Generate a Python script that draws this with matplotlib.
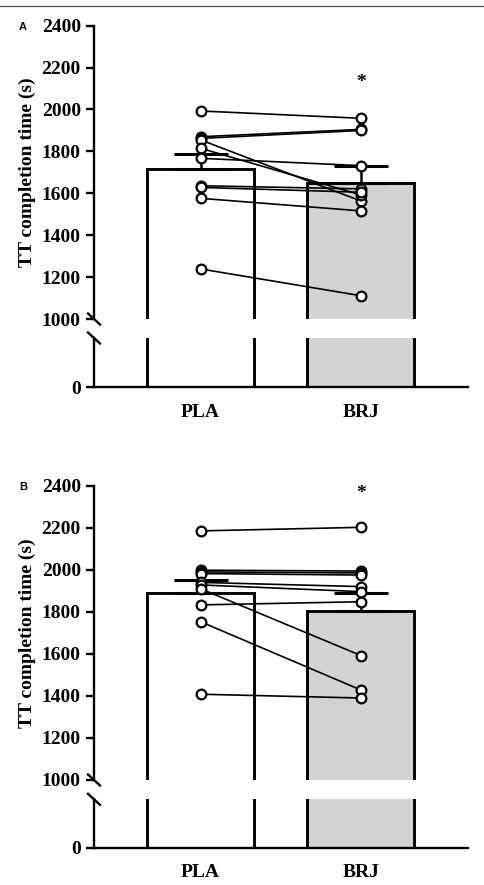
import matplotlib
matplotlib.use("Agg")
import matplotlib.pyplot as plt
from matplotlib.lines import Line2D
import numpy as np

# --- data ---
groups = ["PLA", "BRJ"]
bar_colors = ["white", "#d3d3d3"]

# panel A
pla_a = [1993, 1870, 1862, 1855, 1815, 1767, 1636, 1628, 1576, 1239]
brj_a = [1958, 1905, 1900, 1563, 1592, 1732, 1621, 1605, 1516, 1111]
mean_a = [1718, 1651]
sem_a = [70, 79]
star_a = 2130

# panel B
pla_b = [2185, 1998, 1990, 1982, 1940, 1928, 1910, 1833, 1753, 1408]
brj_b = [2202, 1994, 1985, 1975, 1920, 1896, 1592, 1848, 1428, 1390]
mean_b = [1888, 1806]
sem_b = [64, 85]
star_b = 2365

yticks_top = [1000, 1200, 1400, 1600, 1800, 2000, 2200, 2400]
ylabel = "TT completion time (s)"

W, H = 485, 885
fig = plt.figure(figsize=(W / 100, H / 100), dpi=100)
serif = "Liberation Serif"
LW_SPINE = 1.7
LW_BAR = 2.1


def px_box(left, right, top, bottom):
    return [left / W, 1 - bottom / H, (right - left) / W, (bottom - top) / H]


def break_mark(ax, ypos):
    # little "\" across the left spine
    b = ax.get_position()
    dx = 6 / (b.width * W)
    dy = 5.5 / (b.height * H)
    ax.plot([-dx, dx], [ypos + dy, ypos - dy], transform=ax.transAxes,
            color="black", lw=LW_SPINE, clip_on=False)


def panel(top_box, bot_box, pla, brj, means, sems, star_y, letter):
    ax_t = fig.add_axes(top_box)
    ax_b = fig.add_axes(bot_box)
    x = np.arange(len(groups))
    for ax in (ax_t, ax_b):
        ax.bar(x, means, width=0.667, color=bar_colors, edgecolor="black",
               linewidth=LW_BAR, zorder=1)
        ax.set_xlim(-0.664, 1.667)
        for s in ["top", "right"]:
            ax.spines[s].set_visible(False)
        ax.spines["left"].set_linewidth(LW_SPINE)
        ax.spines["bottom"].set_linewidth(LW_SPINE)
        ax.tick_params(axis="y", width=LW_SPINE, length=6, direction="out")
        ax.tick_params(axis="x", length=0)

    # upper part of broken axis
    ax_t.set_ylim(1000, 2400)
    ax_t.spines["bottom"].set_visible(False)
    ax_t.set_xticks([])
    ax_t.set_yticks(yticks_top)
    ax_t.errorbar(x, means, yerr=[[0, 0], sems], fmt="none", ecolor="black",
                  elinewidth=1.8, capsize=19.5, capthick=2.2, zorder=2)
    for a, b in zip(pla, brj):
        ax_t.plot(x, [a, b], color="black", lw=1.2, marker="o", ms=7,
                  mfc="white", mec="black", mew=1.6, zorder=3)
    ax_t.text(x[1], star_y, "*", ha="center", va="center", fontsize=14,
              fontfamily=serif, fontweight="bold")
    ax_t.set_ylabel(ylabel, fontsize=14, fontfamily=serif, fontweight="bold",
                    labelpad=4)

    # lower part
    ax_b.set_ylim(0, 400)
    ax_b.set_yticks([0])
    ax_b.set_xticks(x)
    ax_b.set_xticklabels(groups)
    ax_b.tick_params(axis="x", pad=12)

    for ax in (ax_t, ax_b):
        for lab in ax.get_yticklabels() + ax.get_xticklabels():
            lab.set_fontfamily(serif)
            lab.set_fontweight("bold")
            lab.set_fontsize(14)

    break_mark(ax_t, 0.0)
    break_mark(ax_b, 1.0)

    fig.text(23 / W, 1 - (top_box_px_y(top_box)) / H, letter, ha="center",
             va="center", fontsize=8, fontweight="bold", family="Liberation Sans")
    return ax_t, ax_b


def top_box_px_y(box):
    # pixel y of the top edge of the upper axes
    return (1 - (box[1] + box[3])) * H + 1


panel(px_box(94, 468, 25.7, 319), px_box(94, 468, 338, 387),
      pla_a, brj_a, mean_a, sem_a, star_a, "A")
panel(px_box(94, 468, 485.7, 780), px_box(94, 468, 799.3, 847.7),
      pla_b, brj_b, mean_b, sem_b, star_b, "B")

# thin page rule at the very top
fig.add_artist(Line2D([0, 1], [1 - 6 / H, 1 - 6 / H], transform=fig.transFigure,
                      color="#555555", lw=0.9))

fig.savefig("out.png", dpi=100)
